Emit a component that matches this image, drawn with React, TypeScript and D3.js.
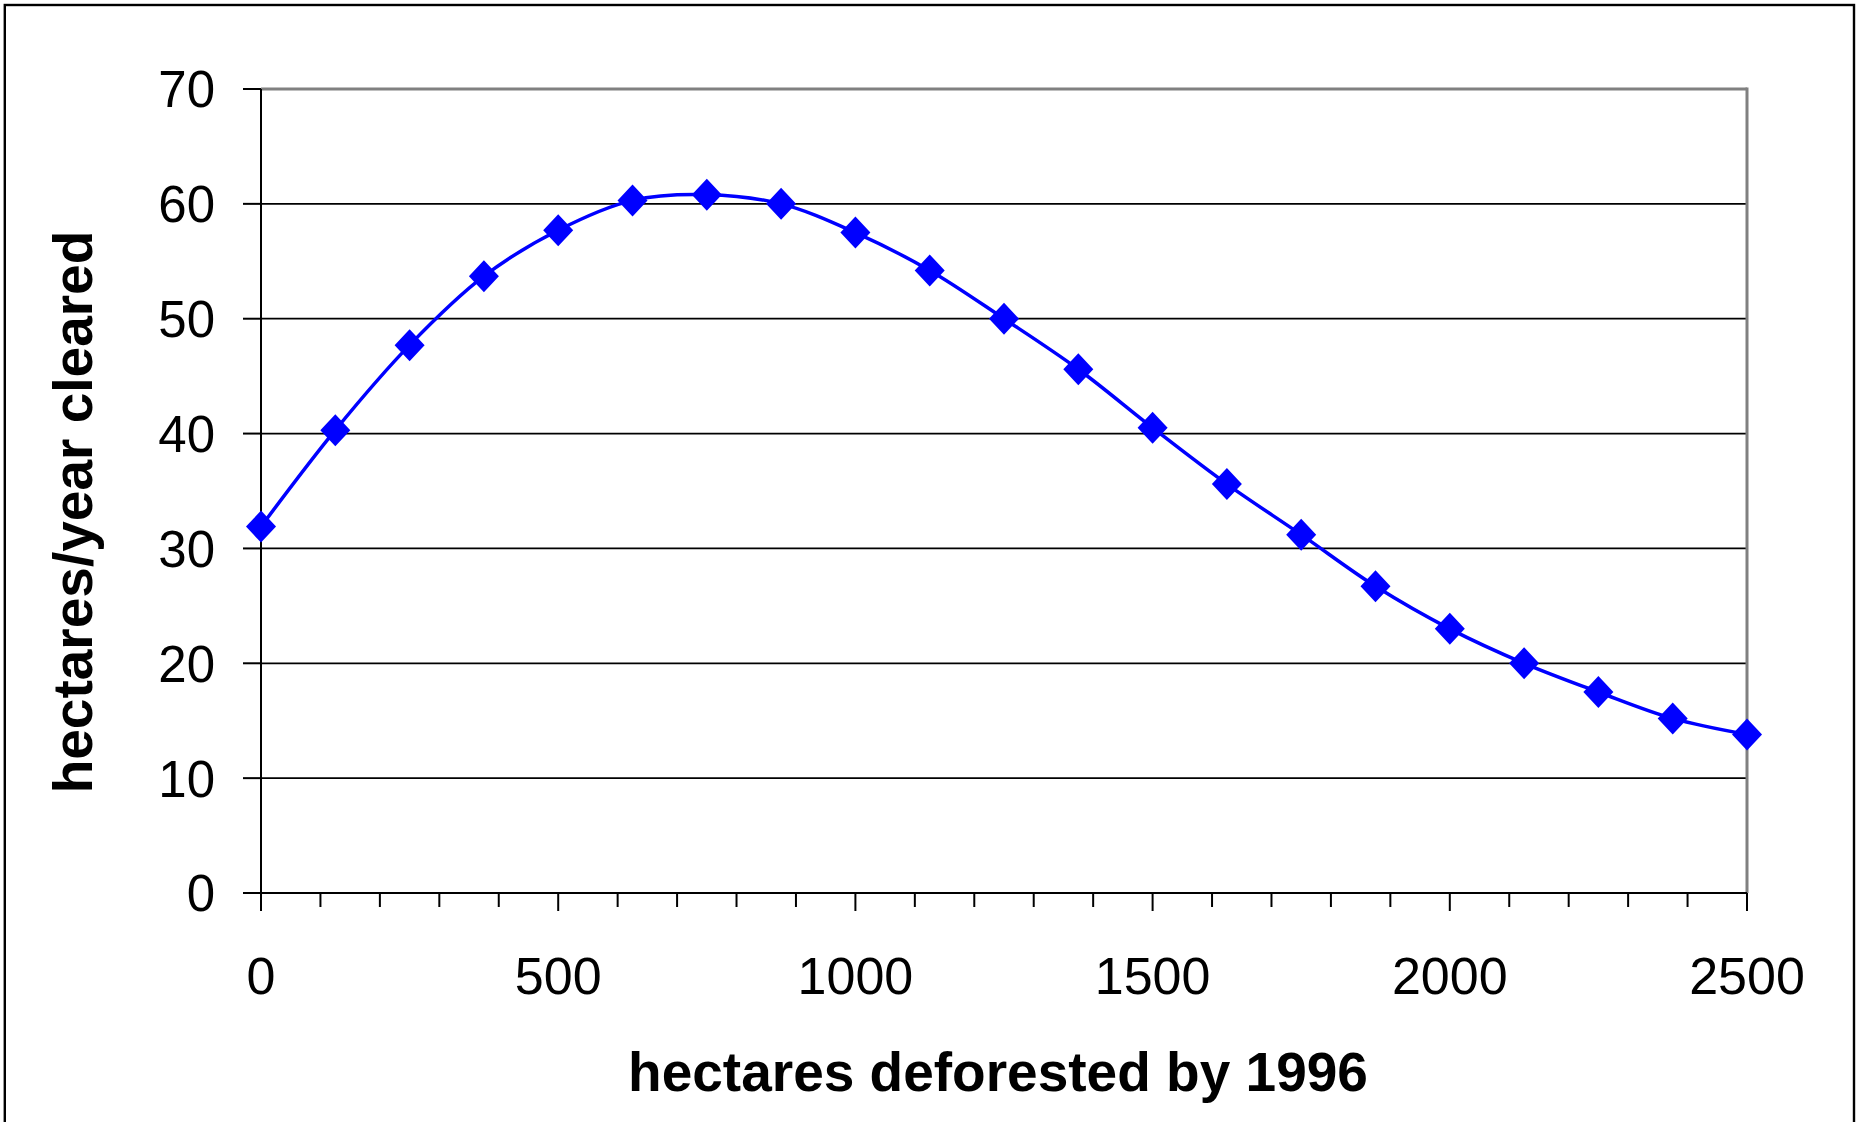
import * as d3 from 'd3';

// hectares deforested by 1996 (x) vs hectares/year cleared (y)
const deforested = [0, 125, 250, 375, 500, 625, 750, 875, 1000, 1125, 1250, 1375, 1500, 1625, 1750, 1875, 2000, 2125, 2250, 2375, 2500];
const clearedPerYear = [31.9, 40.3, 47.7, 53.7, 57.7, 60.3, 60.8, 60.0, 57.5, 54.2, 50.0, 45.6, 40.5, 35.6, 31.2, 26.7, 23.0, 20.0, 17.5, 15.2, 13.8];

const yTicks = [0, 10, 20, 30, 40, 50, 60, 70];
const xMajorTicks = [0, 500, 1000, 1500, 2000, 2500];
const xLabel = 'hectares deforested by 1996';
const yLabel = 'hectares/year cleared';

const W = 1864;
const H = 1122;
const plot = { left: 261, top: 89, right: 1747, bottom: 893 };
const font = '"Liberation Sans", Arial, sans-serif';

// Excel-style diamond marker
const mw = 15;
const mh = 16;
const diamond = `M0,${-mh}L${mw},0L0,${mh}L${-mw},0Z`;

export default function App() {
  const x = d3.scaleLinear().domain([0, 2500]).range([plot.left, plot.right]);
  const y = d3.scaleLinear().domain([0, 70]).range([plot.bottom, plot.top]);

  const points = deforested.map((d, i) => [d, clearedPerYear[i]] as [number, number]);
  const line = d3.line<[number, number]>()
    .x(d => x(d[0]))
    .y(d => y(d[1]))
    .curve(d3.curveCatmullRom.alpha(0.5));

  const xMinorTicks = d3.range(0, 2501, 100).filter(v => v % 500 !== 0);

  return (
    <svg width={W} height={H} style={{ position: 'absolute', left: 0, top: 0, background: '#fff' }}>
      <rect x={0} y={0} width={W} height={H} fill="#fff" />
      {/* outer chart border */}
      <rect x={4.8} y={5} width={1854 - 4.8} height={H + 10} fill="none" stroke="#000" strokeWidth={2.4} />

      {/* gridlines */}
      {yTicks.filter(t => t > 0 && t < 70).map(t => (
        <line key={'g' + t} x1={plot.left} x2={plot.right} y1={y(t)} y2={y(t)} stroke="#000" strokeWidth={1.7} />
      ))}

      {/* plot frame top/right */}
      <line x1={plot.left} x2={plot.right} y1={plot.top} y2={plot.top} stroke="#808080" strokeWidth={3} />
      <line x1={plot.right} x2={plot.right} y1={plot.top - 1.5} y2={plot.bottom} stroke="#808080" strokeWidth={3} />

      {/* axes */}
      <line x1={plot.left} x2={plot.left} y1={plot.top} y2={plot.bottom} stroke="#000" strokeWidth={2} />
      <line x1={plot.left} x2={plot.right} y1={plot.bottom} y2={plot.bottom} stroke="#000" strokeWidth={2} />

      {/* y ticks + labels */}
      {yTicks.map(t => (
        <g key={'y' + t}>
          <line x1={plot.left - 18} x2={plot.left} y1={y(t)} y2={y(t)} stroke="#000" strokeWidth={2} />
          <text x={215} y={y(t)} dy="0.36em" textAnchor="end" fontFamily={font} fontSize={51} fill="#000">{t}</text>
        </g>
      ))}

      {/* x ticks */}
      {xMinorTicks.map(t => (
        <line key={'xm' + t} x1={x(t)} x2={x(t)} y1={plot.bottom} y2={plot.bottom + 14} stroke="#000" strokeWidth={2} />
      ))}
      {xMajorTicks.map(t => (
        <g key={'x' + t}>
          <line x1={x(t)} x2={x(t)} y1={plot.bottom} y2={plot.bottom + 18} stroke="#000" strokeWidth={2} />
          <text x={x(t)} y={994} textAnchor="middle" fontFamily={font} fontSize={52} fill="#000">{t}</text>
        </g>
      ))}

      {/* series */}
      <path d={line(points) ?? ''} fill="none" stroke="#0000FF" strokeWidth={3.5} />
      {points.map((p, i) => (
        <path key={'m' + i} d={diamond} transform={`translate(${x(p[0])},${y(p[1])})`} fill="#0000FF" />
      ))}

      {/* axis titles */}
      <text x={998} y={1091} textAnchor="middle" fontFamily={font} fontSize={55} fontWeight="bold" fill="#000">{xLabel}</text>
      <text transform="translate(92,512) rotate(-90)" textAnchor="middle" fontFamily={font} fontSize={55} fontWeight="bold" fill="#000">{yLabel}</text>
    </svg>
  );
}
